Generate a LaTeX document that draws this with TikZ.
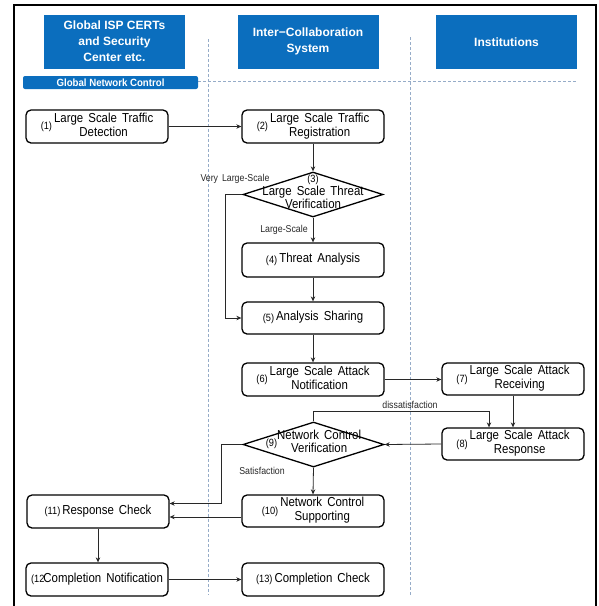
\documentclass[tikz,border=0pt]{standalone}
\usepackage{fontspec}
\setmainfont{Liberation Sans}
\newfontfamily\boxfont{Liberation Sans}[FakeStretch=0.88,WordSpace=1.6]
\usetikzlibrary{shapes.geometric,arrows.meta}

\definecolor{hdrblue}{RGB}{11,110,190}
\definecolor{laneline}{RGB}{150,172,200}
\definecolor{wire}{RGB}{40,40,40}

% step number in a smaller size, followed by the centred step title
\newcommand\stnum[1]{{\fontsize{10.5}{12}\selectfont#1}}
\newcommand\stagetext[2]{\stnum{#1}\hspace{2pt}\begin{tabular}{@{}c@{}}#2\end{tabular}}
% text laid over a diamond without enlarging it
\newcommand\overlaytext[1]{\raisebox{-3pt}{\smash{\makebox[0pt]{#1}}}}

\begin{document}
\begin{tikzpicture}[x=1pt,y=-1pt,
  stagebox/.style={draw, rounded corners=5pt, line width=1.3pt,
    minimum width=142pt, minimum height=33pt, inner sep=0pt,
    font=\boxfont\fontsize{13}{14}\selectfont},
  decision/.style={draw, diamond, line width=1.3pt, inner sep=0pt,
    minimum width=141pt, minimum height=45pt,
    font=\boxfont\fontsize{13}{12.5}\selectfont},
  flow/.style={draw=wire, line width=0.8pt, -{Stealth[length=5pt,width=4.5pt]}},
  header/.style={fill=hdrblue, text=white, align=center, inner sep=0pt,
    minimum width=141pt, minimum height=54pt,
    font=\bfseries\fontsize{12}{16}\selectfont},
  lane/.style={draw=laneline, dash pattern=on 3pt off 2pt, line width=0.8pt},
  note/.style={font=\boxfont\fontsize{10}{12}\selectfont, text=wire, inner sep=0pt}
]
\useasboundingbox (0,0) rectangle (598,606);

% outer frame (open at the bottom)
\draw[line width=2pt] (14,606) -- (14,5) -- (596,5) -- (596,606);

% swimlane separators
\draw[lane] (208,39) -- (208,595);
\draw[lane] (410,37) -- (410,595);
\draw[lane] (198,81) -- (576,81);

% lane headers
\node[header] (hA) at (114.5,41.5) {Global ISP CERTs\\and Security\\Center etc.};
\node[header] (hB) at (308,41.5) {Inter−Collaboration\\System};
\node[header] (hC) at (506.5,42) {Institutions};
\node[fill=hdrblue, rounded corners=2pt, minimum width=175pt, minimum height=13pt,
  inner sep=0pt, text=white, font=\bfseries\fontsize{10.5}{12}\selectfont]
  (gnc) at (110.5,82.5) {\addfontfeature{FakeStretch=0.92}Global Network Control};

% process steps
\node[stagebox] (n1) at (97,126.5) {\stagetext{(1)}{Large Scale Traffic\\Detection}};
\node[stagebox] (n2) at (313,126.5) {\stagetext{(2)}{Large Scale Traffic\\Registration}};
\node[decision, minimum width=140pt] (d3) at (313,194.5)
  {\overlaytext{\begin{tabular}{@{}c@{}}\stnum{(3)}\\Large Scale Threat\\Verification\end{tabular}}};
\node[stagebox, minimum height=34pt] (n4) at (313,260) {\stagetext{(4)}{Threat Analysis}};
\node[stagebox, minimum height=32pt] (n5) at (313,318) {\stagetext{(5)}{Analysis Sharing}};
\node[stagebox] (n6) at (313,379.5) {\stagetext{(6)}{Large Scale Attack\\Notification}};
\node[stagebox, minimum height=32pt] (n7) at (513,379) {\stagetext{(7)}{Large Scale Attack\\Receiving}};
\node[stagebox, minimum height=32pt] (n8) at (513,444) {\stagetext{(8)}{Large Scale Attack\\Response}};
\node[decision] (d9) at (313.5,444.5)
  {\overlaytext{\stnum{(9)}\begin{tabular}{@{}c@{}}Network Control\\Verification\end{tabular}}};
\node[stagebox, minimum height=32pt] (n10) at (313,511) {\stagetext{(10)}{Network Control\\Supporting}};
\node[stagebox] (n11) at (98,511.5) {\stagetext{(11)}{Response Check}};
\node[stagebox] (n12) at (97,579.5) {\stnum{(12}\hspace{-1pt}Completion Notification};
\node[stagebox] (n13) at (313,579.5) {\stagetext{(13)}{Completion Check}};

% flow
\draw[flow] (n1.east) -- (n2.west);
\draw[flow] (n2.south) -- (d3.north);
\draw[flow] (d3.west) -- ++(-17,0) |- (n5.west);
\draw[flow] (d3.south) -- (n4.north);
\draw[flow] (n4.south) -- (n5.north);
\draw[flow] (n5.south) -- (n6.north);
\draw[flow] (n6.east) -- (n6.east -| n7.west);
\draw[flow] (n7.south) -- (n8.north);
\draw[flow] (n8.west) -- (d9.east);
\draw[flow] (d9.north) -- ++(0,-10) -| ([xshift=-24pt]n8.north);
\draw[flow] (d9.south) -- (n10.north);
\draw[flow] (d9.west) -- ++(-21,0) |- ([yshift=8pt]n11.east);
\draw[flow] ([yshift=-6pt]n10.west) -- ([yshift=-6pt]n10.west -| n11.east);
\draw[flow] (n11.south) -- (n11.south |- n12.north);
\draw[flow] (n12.east) -- (n13.west);

% branch labels
\node[note] (lvl) at (235,179) {Very Large-Scale};
\node[note] (ll) at (284,230) {Large-Scale};
\node[note] (ld) at (410,405) {dissatisfaction};
\node[note] (ls) at (262,471) {Satisfaction};
\end{tikzpicture}
\end{document}
